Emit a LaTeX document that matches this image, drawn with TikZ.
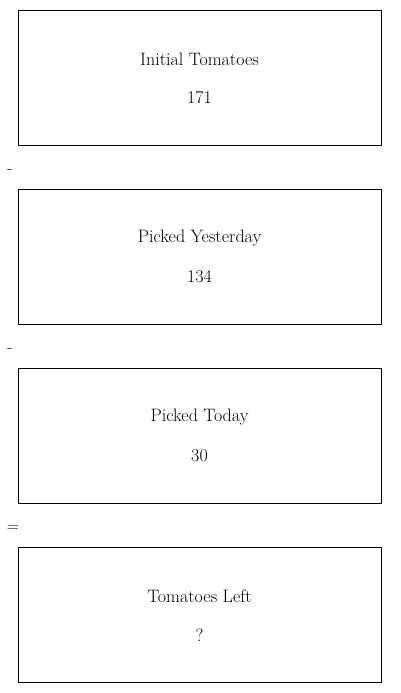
\documentclass[tikz,border=0pt]{standalone}
\usepackage{tikz}
\usetikzlibrary{positioning}
\tikzstyle{sheet} = [x = 1pt, y = -1pt]
\tikzstyle{amountBox} = [draw=black, thin, minimum width = 363pt, minimum height = 135pt, inner sep = 0pt]
\tikzstyle{amountText} = [font=\fontsize{18}{21}\selectfont, align=center]
\tikzstyle{signText} = [font=\fontsize{17}{20}\selectfont, inner sep = 0pt]
\newcommand{\amount}[4]{\node [amountBox] (#1) at (199.5, #2) {};
  \node [amountText] (#1Title) at ([yshift=18.5pt]#1.center) {#3};
  \node [amountText] (#1Value) at ([yshift=-20.5pt]#1.center) {#4};}
\begin{document}
\begin{tikzpicture}[sheet]
        \useasboundingbox (0,0) rectangle (400,693);
        \amount{initial}{77.5}{Initial Tomatoes}{171}
        \node [signText] (minusA) at (10,171.5) {-};
        \amount{yesterday}{256.5}{Picked Yesterday}{134}
        \node [signText] (minusB) at (10,350.5) {-};
        \amount{today}{435.5}{Picked Today}{30}
        \node [signText] (equals) at (13,528.5) {=};
        \amount{left}{614.5}{Tomatoes Left}{?}
      \end{tikzpicture}
\end{document}
